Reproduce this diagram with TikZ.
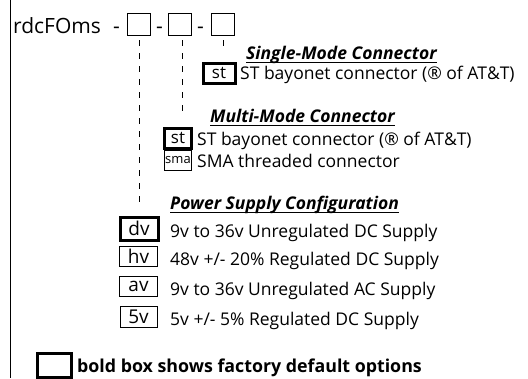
\documentclass[tikz,border=0pt]{standalone}
\usepackage{fontspec}
\setmainfont{Open Sans}
\usetikzlibrary{calc,positioning}
\tikzset{
  optbox/.style={draw, line width=0.7pt, inner sep=0pt, minimum width=#1, minimum height=20pt},
  optbox/.default=27pt,
  defbox/.style={optbox=#1, line width=3pt},
  defbox/.default=32pt,
  txt/.style={anchor=base west, inner sep=0pt, font=\fontsize{17.5}{19}\selectfont},
  head/.style={anchor=base west, inner sep=0pt, font=\fontsize{17.5}{19}\selectfont\bfseries\itshape},
  uline/.style={line width=1.8pt},
  lead/.style={line width=0.6pt, dash pattern=on 6pt off 7pt}
}

\begin{document}
\begin{tikzpicture}[x=1pt, y=-1pt]
    \useasboundingbox (0,0) rectangle (528,378);

    % left rule
    \coordinate (T) at (10,0);
    \coordinate (U) at (10,378);
    \draw [line width=1pt] (T) -- (U);

    % part number
    \node [txt, font=\fontsize{21}{22}\selectfont] (code) at (13,33) {rdcFOms};
    \node [txt, font=\fontsize{21}{22}\selectfont] (d1) at (113,33) {-};
    \node [optbox=23pt, minimum height=22pt] (b1) at (138.5,24) {};
    \node [txt, font=\fontsize{21}{22}\selectfont] (d2) at (156,33) {-};
    \node [optbox=23pt, minimum height=22pt] (b2) at (180,24) {};
    \node [txt, font=\fontsize{21}{22}\selectfont] (d3) at (197,33) {-};
    \node [optbox=23pt, minimum height=22pt] (b3) at (222.5,24) {};

    % ends of the leader lines
    \coordinate (E1) at (139,203);
    \coordinate (E2) at (182,118);
    \coordinate (E3) at (223,48);
    \draw [lead] ([yshift=-5pt]b1.south -| E1) -- (E1);
    \draw [lead] ([yshift=-5pt]b2.south -| E2) -- (E2);
    \draw [lead] ([yshift=-5pt]b3.south -| E3) -- (E3);

    % single-mode connector
    \node [head] (sm) at (246,59) {Single-Mode Connector};
    \draw [uline] ([yshift=-3.5pt]sm.base west) -- ([yshift=-3.5pt]sm.base east);
    \node [defbox, font=\fontsize{17}{18}\selectfont] (smst) at (219,73) {st};
    \node [txt] (smstt) at (240,79) {ST bayonet connector (® of AT\&T)};

    % multi-mode connector
    \node [head] (mm) at (210,122) {Multi-Mode Connector};
    \draw [uline] ([yshift=-3.5pt]mm.base west) -- ([yshift=-3.5pt]mm.base east);
    \node [defbox=27pt, font=\fontsize{17}{18}\selectfont] (mmst) at (178,138) {st};
    \node [txt] (mmstt) at (197,145) {ST bayonet connector (® of AT\&T)};
    \node [optbox, font=\fontsize{13}{14}\selectfont] (mmsma) at (178,160) {sma};
    \node [txt] (mmsmat) at (197,167) {SMA threaded connector};

    % power supply
    \node [head] (ps) at (170,209) {Power Supply Configuration};
    \draw [uline] ([yshift=-3.5pt]ps.base west) -- ([yshift=-3.5pt]ps.base east);
    \node [defbox=38pt, minimum height=23pt, font=\fontsize{19}{20}\selectfont] (dv) at (139,228.5) {dv};
    \node [txt] (dvt) at (170,237) {9v to 36v Unregulated DC Supply};
    \node [optbox=38pt, font=\fontsize{19}{20}\selectfont] (hv) at (138.5,256) {hv};
    \node [txt] (hvt) at (170,265) {48v +/- 20\% Regulated DC Supply};
    \node [optbox=38pt, font=\fontsize{19}{20}\selectfont] (av) at (138.5,286) {av};
    \node [txt] (avt) at (170,295) {9v to 36v Unregulated AC Supply};
    \node [optbox=37pt, minimum height=21pt, font=\fontsize{19}{20}\selectfont] (fv) at (138.5,316.5) {5v};
    \node [txt] (fvt) at (170,325) {5v +/- 5\% Regulated DC Supply};

    % legend
    \node [defbox=34pt, minimum height=24pt] (key) at (54.5,365.5) {};
    \node [txt, font=\fontsize{17.8}{19}\selectfont\bfseries] (keyt) at (77,372) {bold box shows factory default options};
\end{tikzpicture}
\end{document}
